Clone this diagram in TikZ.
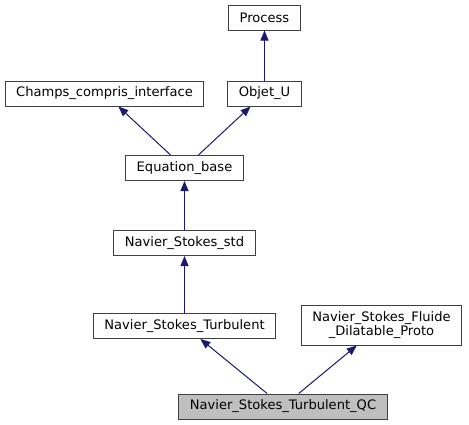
\documentclass[tikz,border=0pt]{standalone}
\usepackage{fontspec}
\setmainfont{DejaVu Sans}
\usetikzlibrary{positioning}
\usetikzlibrary{arrows.meta}
\definecolor{colorEdge}{HTML}{191970}
\definecolor{colorBorder}{HTML}{404040}
\definecolor{colorSel}{HTML}{BFBFBF}

\begin{document}
\begin{tikzpicture}[x=0.75pt,y=-0.75pt,node distance=36.75pt,>={Triangle[length=7.5pt,width=6pt]},every node/.append style={align=center,font=\fontsize{9.8}{10.5}\selectfont},cls/.style={draw=colorBorder, line width=0.75pt, rectangle, inner xsep=8.25pt, inner ysep=0pt, minimum height=18.75pt},inh/.style={colorEdge, line width=0.75pt}]
    \useasboundingbox (0,0) rectangle (469,425);
    \node [cls] (Champs) at (104.5,93.5)  {Champs\_compris\_interface};
    \node [cls] (ObjetU) at (264.5,93.5)  {Objet\_U};
    \node [cls, above=37.5pt of ObjetU] (Process)             {Process};
    \node [cls] (EqBase) at (184.5,168)  {Equation\_base};
    \node [cls, below=of EqBase] (NSstd)             {Navier\_Stokes\_std};
    \node [cls, below=42.75pt of NSstd] (NSTurb)             {Navier\_Stokes\_Turbulent};
    \node [cls, minimum height=30pt] (NSFluide) at (381.5,325)  {Navier\_Stokes\_Fluide\\\_Dilatable\_Proto};
    \node [cls, fill=colorSel] (NSTurbQC) at (283,406.5)  {Navier\_Stokes\_Turbulent\_QC};
    \path[->, inh] (ObjetU) edge (Process);
    \path[->, inh] (EqBase) edge (Champs);
    \path[->, inh] (EqBase) edge (ObjetU);
    \path[->, inh] (NSstd) edge (EqBase);
    \path[->, inh] (NSTurb) edge (NSstd);
    \path[->, inh] (NSTurbQC) edge (NSTurb);
    \path[->, inh] (NSTurbQC) edge (NSFluide);
\end{tikzpicture}
\end{document}
